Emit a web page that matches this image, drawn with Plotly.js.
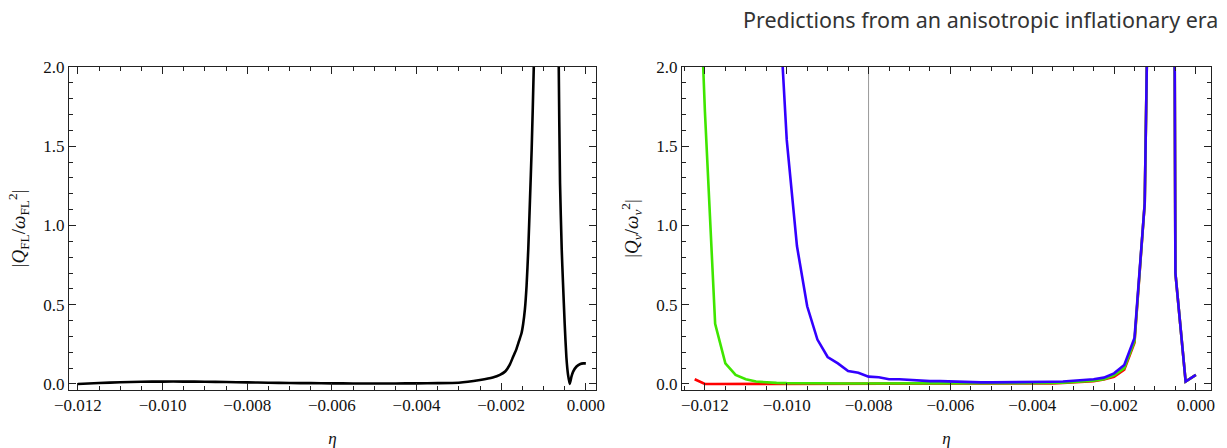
<!DOCTYPE html>
<html>
<head>
<meta charset="utf-8">
<script src="https://cdn.plot.ly/plotly-3.0.1.min.js"></script>
<style>html,body{margin:0;padding:0;background:#fff;}#chart{width:1227px;height:448px;}</style>
</head>
<body>
<div id="chart"></div>
<script>
// Left panel: |Q_FL / ω_FL^2| versus η
const etaFL = [-0.0120,-0.0115,-0.0110,-0.0105,-0.0100,-0.0095,-0.0090,-0.0085,-0.0080,-0.0075,-0.0070,-0.0065,-0.0060,-0.0055,-0.0050,-0.0045,-0.0040,-0.0035,-0.0030,-0.0025,-0.0022,-0.00203,-0.0019,-0.0018,-0.00172,-0.00164,-0.00158,-0.00152,-0.00148,-0.00144,-0.0014,-0.00136,-0.00132,-0.00128,-0.00123,-0.0012,-0.0011,-0.0009,-0.0007,-0.00064,-0.00061,-0.00057,-0.00054,-0.0005,-0.00046,-0.00042,-0.00038,-0.00034,-0.0003,-0.00022,-0.00013,-0.00006,0.0000];
const qFL   = [0.000,0.006,0.011,0.014,0.015,0.015,0.014,0.012,0.010,0.008,0.006,0.005,0.004,0.003,0.003,0.003,0.004,0.005,0.008,0.025,0.040,0.057,0.080,0.12,0.17,0.22,0.27,0.32,0.38,0.47,0.62,0.85,1.16,1.48,2.0,2.6,5.0,15,5.0,2.0,1.27,0.85,0.64,0.38,0.17,0.057,0.0,0.046,0.078,0.11,0.126,0.13,0.13];

// Right panel: |Q_ν / ω_ν^2| versus η, three series
const etaNu = [-0.01225,-0.0120,-0.01175,-0.0115,-0.01125,-0.0110,-0.01075,-0.0105,-0.01025,-0.0100,-0.00975,-0.0095,-0.00925,-0.0090,-0.00875,-0.0085,-0.00825,-0.0080,-0.00775,-0.0075,-0.00725,-0.0070,-0.00675,-0.0065,-0.00625,-0.0060,-0.00575,-0.0055,-0.00525,-0.0050,-0.00475,-0.0045,-0.00425,-0.0040,-0.00375,-0.0035,-0.00325,-0.0030,-0.00275,-0.0025,-0.00225,-0.0020,-0.00175,-0.0015,-0.00125,-0.0010,-0.00075,-0.0005,-0.00025,0.0000];
const qRed   = [0.030,0.000,0.000,0.000,0.000,0.000,0.000,0.000,0.000,0.000,0.000,0.000,0.000,0.000,0.000,0.000,0.000,0.000,0.000,0.000,0.000,0.000,0.000,0.000,0.000,0.000,0.000,0.000,0.000,0.000,0.000,0.000,0.001,0.002,0.003,0.004,0.006,0.009,0.013,0.018,0.028,0.045,0.090,0.260,1.14,5.4,20,0.70,0.015,0.057];
const qGreen = [3.4,1.72,0.38,0.13,0.057,0.030,0.015,0.010,0.007,0.005,0.004,0.004,0.003,0.003,0.003,0.003,0.003,0.003,0.003,0.003,0.003,0.003,0.003,0.003,0.003,0.003,0.003,0.003,0.003,0.003,0.003,0.003,0.003,0.004,0.005,0.006,0.008,0.011,0.015,0.020,0.030,0.055,0.100,0.270,1.14,5.4,20,0.70,0.015,0.057];
const qBlue  = [null,null,null,null,null,null,null,null,2.7,1.54,0.87,0.49,0.28,0.17,0.13,0.082,0.071,0.046,0.042,0.030,0.030,0.025,0.022,0.018,0.018,0.015,0.014,0.012,0.010,0.010,0.010,0.010,0.011,0.011,0.012,0.014,0.016,0.020,0.025,0.030,0.040,0.067,0.120,0.290,1.14,5.4,20,0.70,0.015,0.057];

const yTicks = [0, 0.5, 1.0, 1.5, 2.0];
const xTicks = [-0.012,-0.010,-0.008,-0.006,-0.004,-0.002,0.000];
const markerEta = -0.008;

const serif = 'Liberation Serif';
const lw = 2.6;

const traces = [
  {x: etaFL, y: qFL, mode:'lines', line:{color:'#000', width:lw, shape:'spline', smoothing:0.5}, xaxis:'x', yaxis:'y', showlegend:false},
  {x: etaNu, y: qRed, mode:'lines', line:{color:'#ff0000', width:lw}, xaxis:'x2', yaxis:'y2', showlegend:false},
  {x: etaNu, y: qGreen, mode:'lines', line:{color:'#3fe600', width:lw}, xaxis:'x2', yaxis:'y2', showlegend:false},
  {x: etaNu, y: qBlue, mode:'lines', line:{color:'#3300ff', width:lw}, xaxis:'x2', yaxis:'y2', showlegend:false, connectgaps:false}
];

function xAxis(domain, range, anchor){
  return {
    domain: domain, range: range, anchor: anchor,
    tickmode:'array', tickvals: xTicks, tickformat:'.3f',
    ticks:'inside', ticklen:7, tickwidth:1, tickcolor:'#222',
    minor:{dtick:0.0005, tick0:0, ticks:'inside', ticklen:4, tickwidth:1, tickcolor:'#222'},
    showline:true, linecolor:'#222', linewidth:1, mirror:'allticks',
    showgrid:false, zeroline:false,
    tickfont:{family:serif, size:17, color:'#111'},
    title:{text:'<i>η</i>', font:{family:serif, size:17, color:'#111'}, standoff:18}
  };
}
function yAxis(anchor, titleText){
  return {
    domain:[0.1295, 0.8504], range:[-0.038, 2.0], anchor: anchor,
    tickmode:'array', tickvals: yTicks, tickformat:'.1f',
    ticks:'inside', ticklen:7, tickwidth:1, tickcolor:'#222',
    minor:{dtick:0.1, tick0:0, ticks:'inside', ticklen:4, tickwidth:1, tickcolor:'#222'},
    showline:true, linecolor:'#222', linewidth:1, mirror:'allticks',
    showgrid:false, zeroline:false,
    tickfont:{family:serif, size:17, color:'#111'},
    title:{text:titleText, font:{family:serif, size:19, color:'#111'}, standoff:12}
  };
}

const layout = {
  width:1227, height:448,
  margin:{l:0, r:0, t:0, b:0},
  paper_bgcolor:'#fff', plot_bgcolor:'#fff',
  xaxis: xAxis([69/1227, 596/1227], [-0.01221, 0.00024], 'y'),
  yaxis: yAxis('x', '|<i>Q</i><sub>FL</sub>/<i>ω</i><sub>FL</sub><sup>2</sup>|'),
  xaxis2: xAxis([682/1227, 1211/1227], [-0.01256, 0.00037], 'y2'),
  yaxis2: yAxis('x2', '|<i>Q</i><sub><i>ν</i></sub>/<i>ω</i><sub><i>ν</i></sub><sup>2</sup>|'),
  shapes:[{type:'line', xref:'x2', yref:'y2 domain', x0:markerEta, x1:markerEta, y0:0, y1:1, line:{color:'#9a9a9a', width:1}, layer:'below'}],
  annotations:[{text:'Predictions from an anisotropic inflationary era', xref:'paper', yref:'paper', x:1220/1227, y:1-20/448, xanchor:'right', yanchor:'middle', showarrow:false, font:{family:'Noto Sans', size:21.5, color:'#333'}}]
};

Plotly.newPlot('chart', traces, layout, {staticPlot:true, displayModeBar:false});
</script>
</body>
</html>
